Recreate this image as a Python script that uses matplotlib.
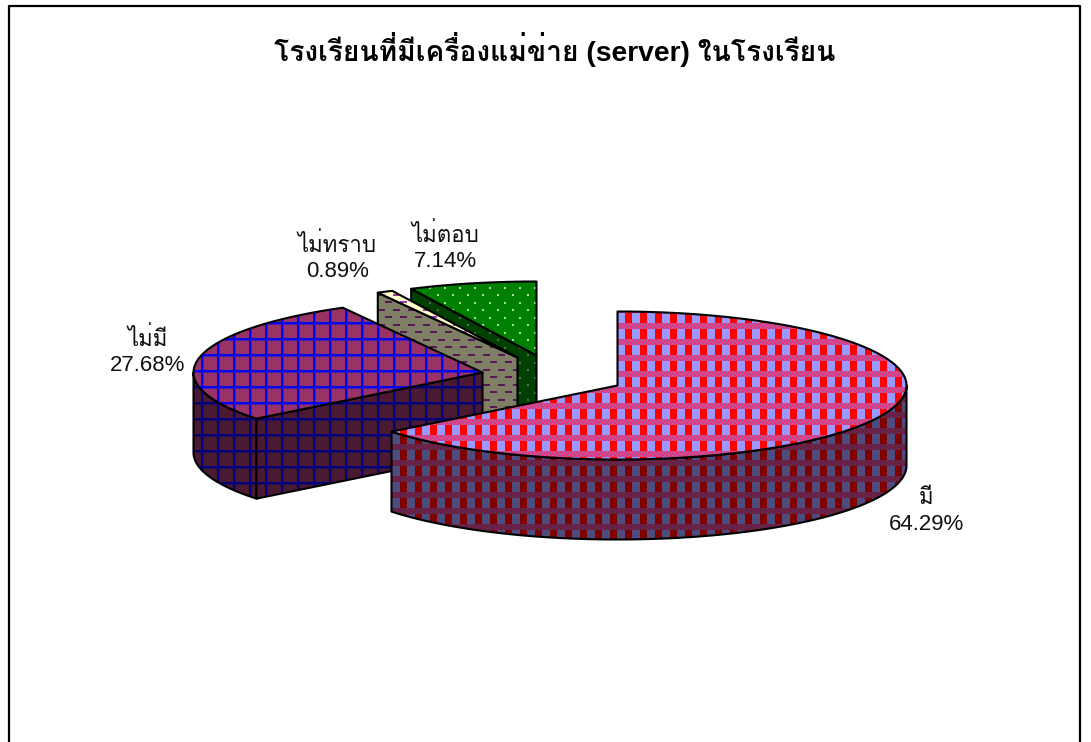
import numpy as np
import matplotlib
matplotlib.use('Agg')
import matplotlib.pyplot as plt
from matplotlib.patches import Polygon

WIDTH, HEIGHT = 1091, 742

# values from the chart, clockwise from 12 o'clock
labels = ['มี', 'ไม่มี', 'ไม่ทราบ', 'ไม่ตอบ']
shares = [64.29, 27.68, 0.89, 7.14]
title = 'โรงเรียนที่มีเครื่องแม่ข่าย (server) ในโรงเรียน'

# layout of the exploded slices, in image pixels
apexes = [(617, 385), (482, 372), (517, 357), (536, 355)]
label_centers = [(926, 511), (147, 351), (337, 257), (445, 247)]
RX, RY, DEPTH = 289, 74, 80

FONTS = ['Liberation Sans', 'Loma']

xx, yy = np.meshgrid(np.arange(WIDTH), np.arange(HEIGHT))


def fill_pattern(mask_a, color_a, color_b):
    canvas = np.empty((HEIGHT, WIDTH, 3), dtype=np.uint8)
    canvas[:] = color_b
    canvas[mask_a] = color_a
    return canvas


def red_pattern(phase_y, shade=1.0):
    red = np.array((255, 0, 0))
    blue = np.array((153, 153, 255))
    canvas = np.empty((HEIGHT, WIDTH, 3), dtype=float)
    canvas[:] = blue
    canvas[(xx - 700) % 15 < 7] = red
    band = (yy - phase_y) % 16 >= 10
    fine = (xx // 2 + yy // 2) % 2 == 0
    canvas[band & fine] = (232, 55, 115)
    canvas[band & ~fine] = (185, 85, 165)
    return (canvas * shade).astype(np.uint8)


def plum_pattern(shade=1.0):
    plum = np.array((153, 51, 102)) * shade
    blue = np.array((0, 0, 255)) * shade
    soft = (plum + blue) / 2
    canvas = np.empty((HEIGHT, WIDTH, 3), dtype=np.uint8)
    canvas[:] = plum
    canvas[((xx - 299) % 16 == 0) | ((yy - 356) % 16 == 0)] = soft
    canvas[((xx - 297) % 16 < 2) | ((yy - 354) % 16 < 2)] = blue
    return canvas


def green_pattern(shade=1.0):
    row_a = ((xx - 489) % 15 < 2) & ((yy - 287) % 15 < 2)
    row_b = ((xx - 482) % 15 < 2) & ((yy - 294) % 15 < 2)
    green = np.array((0, 128, 0)) * shade
    dot = np.array((170, 220, 170)) * shade
    return fill_pattern(row_a | row_b, dot, green)


def dash_pattern(shade=1.0):
    row_a = ((xx - 408) % 15 < 7) & ((yy - 324) % 15 < 2)
    row_b = ((xx - 400) % 15 < 7) & ((yy - 316) % 15 < 2)
    cream = np.array((255, 255, 204)) * shade
    dash = np.array((170, 51, 170)) * shade
    return fill_pattern(row_a | row_b, dash, cream)


# top face and side face pictures per slice
top_fills = [red_pattern(377), plum_pattern(), dash_pattern(), green_pattern()]
side_fills = [red_pattern(482, 0.5), plum_pattern(0.5), dash_pattern(0.5), green_pattern(0.5)]


def rim_point(apex, theta):
    return (apex[0] + RX * np.sin(np.radians(theta)),
            apex[1] - RY * np.cos(np.radians(theta)))


def rim_arc(apex, start, end):
    thetas = np.linspace(start, end, 200)
    return [rim_point(apex, t) for t in thetas]


def draw_face(ax, points, picture, order):
    patch = Polygon(points, closed=True, facecolor='none', edgecolor='black',
                    lw=1.5, joinstyle='round', zorder=order + 0.5)
    ax.add_patch(patch)
    image = ax.imshow(picture, interpolation='nearest', aspect='auto', zorder=order)
    image.set_clip_path(patch)


def draw_slice(ax, apex, start, end, top, side, order):
    # outer wall, only the part that faces the viewer
    wall_start, wall_end = max(start, 90), min(end, 270)
    if wall_start < wall_end:
        arc = rim_arc(apex, wall_start, wall_end)
        lower = [(x, y + DEPTH) for x, y in arc]
        draw_face(ax, arc + lower[::-1], side, order)
    # cut face at the start of the slice
    if start > 0:
        x, y = rim_point(apex, start)
        cut = [apex, (x, y), (x, y + DEPTH), (apex[0], apex[1] + DEPTH)]
        draw_face(ax, cut, side, order + 1)
    draw_face(ax, [apex] + rim_arc(apex, start, end), top, order + 2)


fig = plt.figure(figsize=(WIDTH / 100, HEIGHT / 100), dpi=100)
ax = fig.add_axes([0, 0, 1, 1])

edges = 360 * np.cumsum([0] + shares) / sum(shares)
# back slices first so the big one sits in front
for i in [3, 2, 1, 0]:
    draw_slice(ax, apexes[i], edges[i], edges[i + 1],
               top_fills[i], side_fills[i], (3 - i) * 5 + 1)

ax.set_xlim(-0.5, WIDTH - 0.5)
ax.set_ylim(HEIGHT - 0.5, -0.5)
ax.axis('off')

# frame, open at the bottom where the picture is cut
ax.plot([8.5, 8.5, 1079.5, 1079.5], [HEIGHT, 5.5, 5.5, HEIGHT], color='black', lw=1.6, zorder=40)

ax.text(554, 49, title, ha='center', va='center', fontsize=20.3, fontweight='bold',
        family=FONTS, zorder=50)

for label, share, (cx, cy) in zip(labels, shares, label_centers):
    ax.text(cx, cy, f'{label}\n{share:.2f}%', ha='center', va='center', fontsize=16,
            linespacing=1.25, color='#111111', family=FONTS, zorder=50)

fig.savefig('out.png', dpi=100)
